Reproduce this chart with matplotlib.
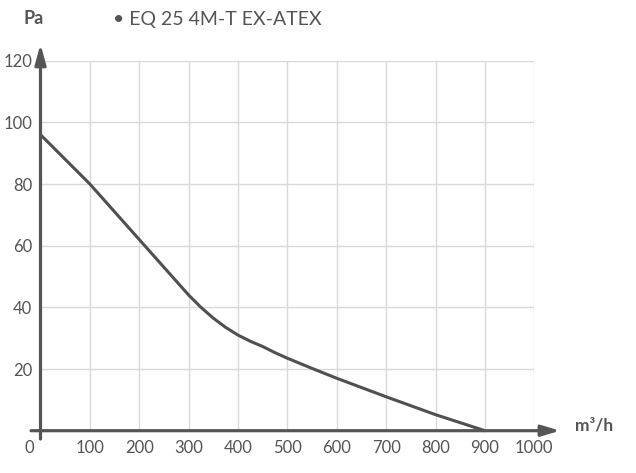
import matplotlib
matplotlib.use("Agg")
import matplotlib.pyplot as plt

# data
flow = [0, 50, 100, 150, 200, 250, 300, 325, 350, 375, 400, 425, 450, 475, 500, 550, 600, 700, 800, 900]
pressure = [96, 88, 80, 71, 62, 53, 44, 40, 36.5, 33.5, 31, 29, 27.3, 25.3, 23.5, 20.2, 17, 11, 5.2, 0]
x_ticks = [100, 200, 300, 400, 500, 600, 700, 800, 900, 1000]
y_ticks = [20, 40, 60, 80, 100, 120]
title = "• EQ 25 4M-T EX-ATEX"

plt.rcParams['font.family'] = ['Lato', 'DejaVu Sans']
txt = '#555555'
axc = '#555555'

W, H = 636, 473
fig = plt.figure(figsize=(W / 100, H / 100), dpi=100)
x0, x1, yb, yt = 40.5, 534.3, 430.7, 60.7
ax = fig.add_axes([x0 / W, 1 - yb / H, (x1 - x0) / W, (yb - yt) / H])
ax.set_xlim(0, 1000)
ax.set_ylim(0, 120)
for s in ax.spines.values():
    s.set_visible(False)

ax.set_xticks(x_ticks)
ax.set_yticks(y_ticks)
ax.set_xticklabels([str(v) for v in x_ticks])
ax.set_yticklabels([str(v) for v in y_ticks])
ax.tick_params(length=0, labelsize=12, labelcolor=txt)
ax.tick_params(axis='x', pad=7)
ax.tick_params(axis='y', pad=6)
ax.grid(True, color='#d9d9d9', linewidth=1.0)
ax.set_axisbelow(True)

ax.plot(flow, pressure, color='#505050', linewidth=2.2, solid_capstyle='round',
        solid_joinstyle='round', zorder=3, clip_on=False)

# axis arrows
ax.annotate('', xy=(1052, 0), xytext=(-19, 0),
            arrowprops=dict(arrowstyle='-|>,head_length=11,head_width=3.3', mutation_scale=1,
                            color=axc, lw=2.3, shrinkA=0, shrinkB=0),
            annotation_clip=False, zorder=4)
ax.annotate('', xy=(0, 125.4), xytext=(0, -2.7),
            arrowprops=dict(arrowstyle='-|>,head_length=12,head_width=3.3', mutation_scale=1,
                            color=axc, lw=2.3, shrinkA=0, shrinkB=0),
            annotation_clip=False, zorder=4)

ax.text(-23, -5.6, '0', ha='center', va='center', fontsize=12, color=txt, clip_on=False)

fig.text(113 / W, 1 - 20 / H, title, ha='left', va='center', fontsize=14, color=txt)
fig.text(34 / W, 1 - 19 / H, 'Pa', ha='center', va='center', fontsize=13, color=txt, fontweight='bold')
fig.text(594 / W, 1 - 425 / H, 'm³/h', ha='center', va='center', fontsize=12.5, color=txt, fontweight='bold')

fig.savefig('out.png', dpi=100)
